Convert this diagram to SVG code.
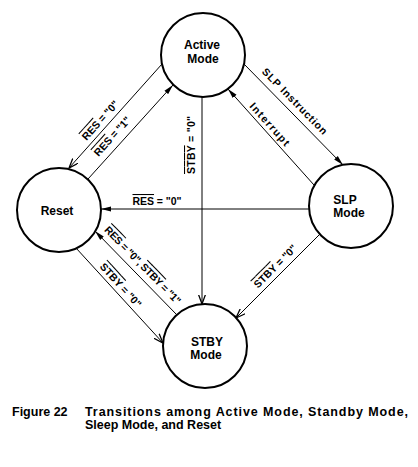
<svg xmlns="http://www.w3.org/2000/svg" width="418" height="467" viewBox="0 0 418 467">
<style>
.node{fill:#fff;stroke:#000;stroke-width:2}
.nt{font-family:"Liberation Sans",Arial,sans-serif;font-weight:bold;font-size:12px;text-anchor:middle;fill:#000}
.lbl{font-family:"Liberation Sans",Arial,sans-serif;font-weight:bold;font-size:10.5px;text-anchor:middle;fill:#000}
.cap{font-family:"Liberation Sans",Arial,sans-serif;font-weight:bold;font-size:12.5px;fill:#000}
.ln{fill:none;stroke:#000;stroke-width:1}
.ov{text-decoration:overline}
</style>
<defs>
<marker id="af" viewBox="0 0 10 6" refX="10" refY="3" markerWidth="10" markerHeight="6" orient="auto" markerUnits="userSpaceOnUse"><path d="M0,0.5 L10,3 L0,5.5 z" fill="#000"/></marker>
<marker id="ao" viewBox="0 0 10 8" refX="9.5" refY="4" markerWidth="10" markerHeight="8" orient="auto" markerUnits="userSpaceOnUse"><path d="M0,0.5 L9.5,4 L0,7.5" fill="none" stroke="#000" stroke-width="1.3"/></marker>
</defs>
<rect width="418" height="467" fill="#fff"/>
<g id="connectors">
<line class="ln" x1="162" y1="64" x2="69" y2="168" marker-end="url(#ao)"/>
<line class="ln" x1="88" y1="179" x2="173" y2="85" marker-end="url(#af)"/>
<line class="ln" x1="202" y1="97" x2="202" y2="304" marker-end="url(#ao)"/>
<line class="ln" x1="244" y1="64" x2="343" y2="165" marker-end="url(#af)"/>
<line class="ln" x1="314" y1="185" x2="228" y2="89" marker-end="url(#af)"/>
<line class="ln" x1="309" y1="209" x2="101" y2="209" marker-end="url(#af)"/>
<line class="ln" x1="76" y1="248" x2="163" y2="343" marker-end="url(#ao)"/>
<line class="ln" x1="177" y1="315" x2="95" y2="231" marker-end="url(#af)"/>
<line class="ln" x1="320" y1="234" x2="236" y2="318" marker-end="url(#ao)"/>
<text class="lbl" transform="translate(100,120) rotate(-48)" y="4" textLength="49"><tspan class="ov">RES</tspan> = "0"</text>
<text class="lbl" transform="translate(112,136) rotate(-48)" y="4" textLength="49"><tspan class="ov">RES</tspan> = "1"</text>
<text class="lbl" transform="translate(191,145) rotate(-90)" y="4" textLength="58"><tspan class="ov">STBY</tspan> = "0"</text>
<text class="lbl" transform="translate(295,101) rotate(45.6)" y="4" textLength="88">SLP Instruction</text>
<text class="lbl" transform="translate(270,124) rotate(48)" y="4" textLength="54">Interrupt</text>
<text class="lbl" x="157" y="205" textLength="49"><tspan class="ov">RES</tspan> = "0"</text>
<text class="lbl" transform="translate(121,285) rotate(47.5)" y="4" textLength="56"><tspan class="ov">STBY</tspan> = "0"</text>
<text class="lbl" transform="translate(143,265) rotate(45.7)" y="4" textLength="104"><tspan class="ov">RES</tspan> = "0", <tspan class="ov">STBY</tspan> = "1"</text>
<text class="lbl" transform="translate(275,266) rotate(-45)" y="4" textLength="56"><tspan class="ov">STBY</tspan> = "0"</text>
</g>
<g id="active">
<circle class="node" cx="203" cy="55" r="42"/>
<text class="nt" x="202" y="49">Active</text>
<text class="nt" x="203" y="63">Mode</text>
</g>
<g id="reset">
<circle class="node" cx="59" cy="210" r="42"/>
<text class="nt" x="57" y="215">Reset</text>
</g>
<g id="slp">
<circle class="node" cx="351" cy="206" r="42"/>
<text class="nt" x="345" y="204">SLP</text>
<text class="nt" x="349" y="217">Mode</text>
</g>
<g id="stby">
<circle class="node" cx="205" cy="346" r="42"/>
<text class="nt" x="207" y="346">STBY</text>
<text class="nt" x="206" y="359">Mode</text>
</g>
<g id="caption">
<text class="cap" x="12" y="416">Figure 22</text>
<text class="cap" x="85" y="416" textLength="323">Transitions among Active Mode, Standby Mode,</text>
<text class="cap" x="85" y="429">Sleep Mode, and Reset</text>
</g>
</svg>
